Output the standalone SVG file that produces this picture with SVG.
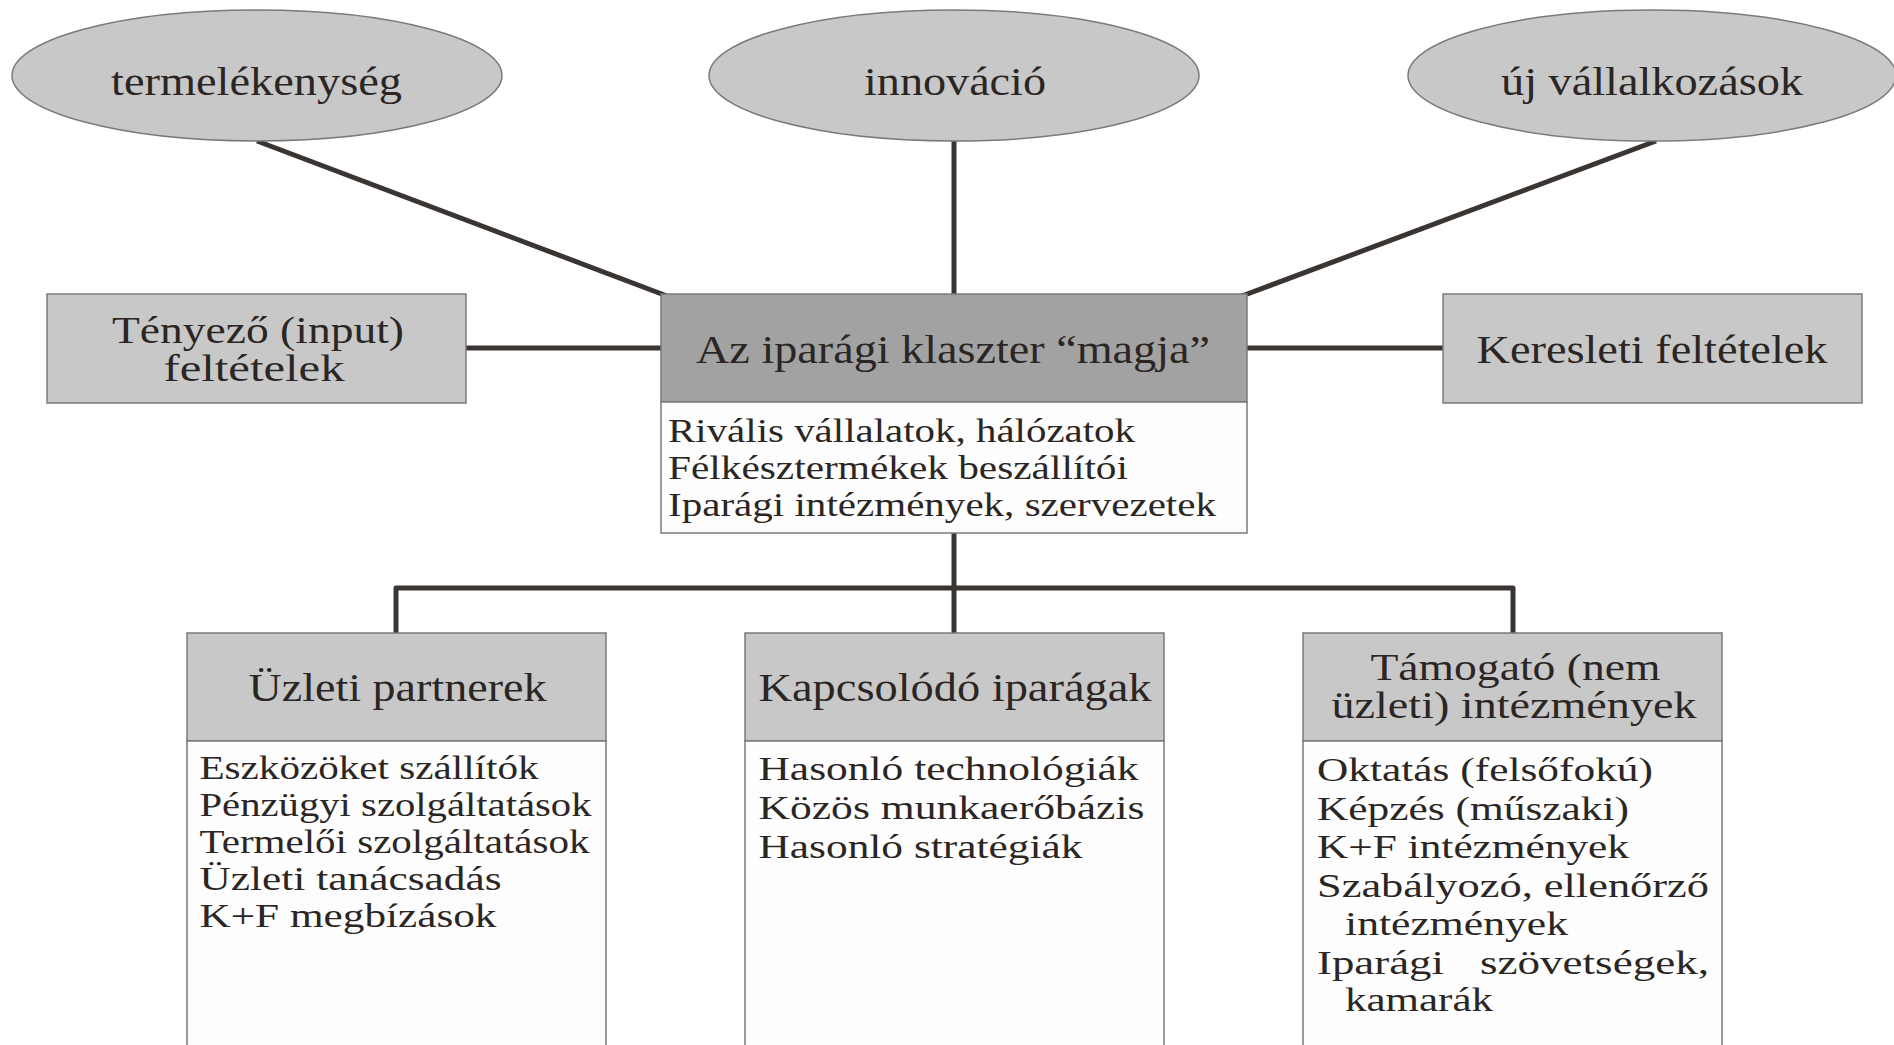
<svg xmlns="http://www.w3.org/2000/svg" width="1894" height="1045" viewBox="0 0 1894 1045">
<style>
.bg{fill:#ffffff}
.ell{fill:#c8c8c8;stroke:#7a7a7a;stroke-width:1.5}
.hdr{fill:#c8c8c8;stroke:#7a7a7a;stroke-width:1.5}
.hdrd{fill:#a2a2a2;stroke:#7a7a7a;stroke-width:1.5}
.body{fill:#fdfdfd;stroke:#7a7a7a;stroke-width:1.5}
.con{fill:none;stroke:#3a3533;stroke-width:5;stroke-linejoin:round}
text{font-family:"Liberation Serif","Times New Roman",serif;fill:#2b2624}
.t{font-size:40px;text-anchor:middle}
.t2{font-size:38px;text-anchor:middle}
.b{font-size:34px}
</style>
<rect class="bg" x="0" y="0" width="1894" height="1045"/>
<g id="connectors">
<path class="con" d="M257,141 L667,296"/>
<path class="con" d="M954,141 V296"/>
<path class="con" d="M1656,141 L1242,296"/>
<path class="con" d="M466,348 H661"/>
<path class="con" d="M1247,348 H1443"/>
<path class="con" d="M954,533 V633"/>
<path class="con" d="M396,633 V588 H1513 V633"/>
</g>
<g id="termelekenyseg">
<ellipse class="ell" cx="257" cy="75.5" rx="245" ry="65.5"/>
<text class="t" x="256.5" y="95" textLength="291" lengthAdjust="spacingAndGlyphs">termelékenység</text>
</g>
<g id="innovacio">
<ellipse class="ell" cx="954" cy="75.5" rx="245" ry="65.5"/>
<text class="t" x="955" y="95" textLength="182" lengthAdjust="spacingAndGlyphs">innováció</text>
</g>
<g id="uj-vallalkozasok">
<ellipse class="ell" cx="1652" cy="75.5" rx="244" ry="65.5"/>
<text class="t" x="1652" y="95" textLength="302" lengthAdjust="spacingAndGlyphs">új vállalkozások</text>
</g>
<g id="tenyezo">
<rect class="hdr" x="47" y="294" width="419" height="109"/>
<text class="t2" x="258" y="343" textLength="292" lengthAdjust="spacingAndGlyphs">Tényező (input)</text>
<text class="t2" x="254" y="381" textLength="181" lengthAdjust="spacingAndGlyphs">feltételek</text>
</g>
<g id="keresleti">
<rect class="hdr" x="1443" y="294" width="419" height="109"/>
<text class="t" x="1652" y="363" textLength="351" lengthAdjust="spacingAndGlyphs">Keresleti feltételek</text>
</g>
<g id="mag">
<rect class="hdrd" x="661" y="294" width="586" height="108"/>
<rect class="body" x="661" y="402" width="586" height="131"/>
<text class="t" x="953" y="363" textLength="514" lengthAdjust="spacingAndGlyphs">Az iparági klaszter “magja”</text>
<text class="b" x="668" y="442" textLength="467" lengthAdjust="spacingAndGlyphs">Rivális vállalatok, hálózatok</text>
<text class="b" x="668" y="479" textLength="460" lengthAdjust="spacingAndGlyphs">Félkésztermékek beszállítói</text>
<text class="b" x="668" y="515.5" textLength="548" lengthAdjust="spacingAndGlyphs">Iparági intézmények, szervezetek</text>
</g>
<g id="uzleti-partnerek">
<rect class="hdr" x="187" y="633" width="419" height="108"/>
<rect class="body" x="187" y="741" width="419" height="320"/>
<text class="t" x="397.5" y="700.5" textLength="298" lengthAdjust="spacingAndGlyphs">Üzleti partnerek</text>
<text class="b" x="199.5" y="779" textLength="339" lengthAdjust="spacingAndGlyphs">Eszközöket szállítók</text>
<text class="b" x="199.5" y="816" textLength="392" lengthAdjust="spacingAndGlyphs">Pénzügyi szolgáltatások</text>
<text class="b" x="199.5" y="853" textLength="390" lengthAdjust="spacingAndGlyphs">Termelői szolgáltatások</text>
<text class="b" x="199.5" y="890" textLength="302" lengthAdjust="spacingAndGlyphs">Üzleti tanácsadás</text>
<text class="b" x="199.5" y="927" textLength="297" lengthAdjust="spacingAndGlyphs">K+F megbízások</text>
</g>
<g id="kapcsolodo">
<rect class="hdr" x="745" y="633" width="419" height="108"/>
<rect class="body" x="745" y="741" width="419" height="320"/>
<text class="t" x="955" y="700.5" textLength="393" lengthAdjust="spacingAndGlyphs">Kapcsolódó iparágak</text>
<text class="b" x="758.5" y="780" textLength="380" lengthAdjust="spacingAndGlyphs">Hasonló technológiák</text>
<text class="b" x="758.5" y="819" textLength="386" lengthAdjust="spacingAndGlyphs">Közös munkaerőbázis</text>
<text class="b" x="758.5" y="858" textLength="324" lengthAdjust="spacingAndGlyphs">Hasonló stratégiák</text>
</g>
<g id="tamogato">
<rect class="hdr" x="1303" y="633" width="419" height="108"/>
<rect class="body" x="1303" y="741" width="419" height="320"/>
<text class="t2" x="1515.5" y="680" textLength="290" lengthAdjust="spacingAndGlyphs">Támogató (nem</text>
<text class="t2" x="1514" y="718" textLength="365" lengthAdjust="spacingAndGlyphs">üzleti) intézmények</text>
<text class="b" x="1317" y="781" textLength="336" lengthAdjust="spacingAndGlyphs">Oktatás (felsőfokú)</text>
<text class="b" x="1317" y="819.5" textLength="312" lengthAdjust="spacingAndGlyphs">Képzés (műszaki)</text>
<text class="b" x="1317" y="858" textLength="312" lengthAdjust="spacingAndGlyphs">K+F intézmények</text>
<text class="b" x="1317" y="896.5" textLength="392" lengthAdjust="spacingAndGlyphs">Szabályozó, ellenőrző</text>
<text class="b" x="1345" y="935" textLength="223" lengthAdjust="spacingAndGlyphs">intézmények</text>
<text class="b" x="1317" y="973.5" textLength="127" lengthAdjust="spacingAndGlyphs">Iparági</text>
<text class="b" x="1480" y="973.5" textLength="229" lengthAdjust="spacingAndGlyphs">szövetségek,</text>
<text class="b" x="1345" y="1011" textLength="148" lengthAdjust="spacingAndGlyphs">kamarák</text>
</g>
</svg>
